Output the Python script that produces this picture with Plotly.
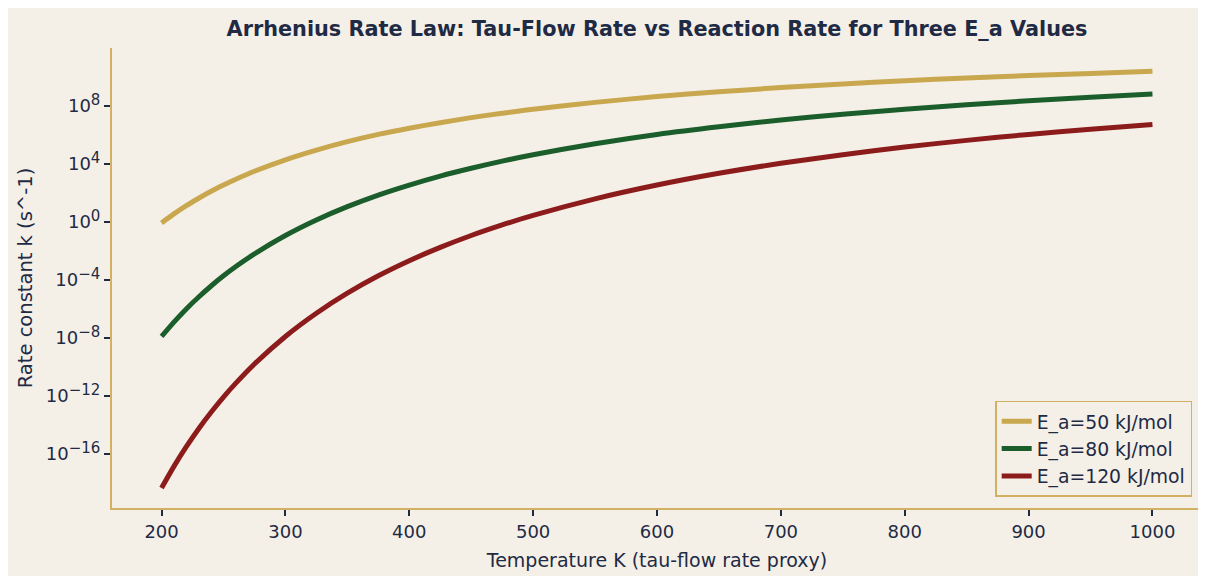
import plotly.graph_objects as go

# Temperature samples (K)
temps = [200, 210, 220, 230, 240, 250, 260, 275, 300, 325, 350, 375, 400, 425, 450, 475, 500,
         550, 600, 650, 700, 750, 800, 850, 900, 950, 1000]

# log10 of rate constant k (s^-1)
log_k_50 = [-0.06, 0.56, 1.13, 1.64, 2.12, 2.55, 2.95, 3.50, 4.29, 4.96, 5.54, 6.04, 6.47, 6.85, 7.20, 7.50, 7.78,
            8.25, 8.65, 8.98, 9.27, 9.52, 9.74, 9.93, 10.10, 10.25, 10.39]
log_k_80 = [-7.89, -6.90, -5.99, -5.17, -4.41, -3.71, -3.07, -2.20, -0.93, 0.14, 1.06, 1.86, 2.55, 3.17, 3.71, 4.20, 4.64,
            5.40, 6.04, 6.57, 7.03, 7.43, 7.78, 8.08, 8.36, 8.60, 8.82]
log_k_120 = [-18.34, -16.85, -15.49, -14.25, -13.12, -12.07, -11.11, -9.79, -7.89, -6.29, -4.91, -3.71, -2.67, -1.75, -0.93, -0.20, 0.46,
             1.60, 2.55, 3.36, 4.05, 4.64, 5.17, 5.63, 6.04, 6.40, 6.73]

series_names = ["E_a=50 kJ/mol", "E_a=80 kJ/mol", "E_a=120 kJ/mol"]
series_colors = ["#C9A74E", "#1B5E2B", "#8C1C1C"]

x_ticks = [200, 300, 400, 500, 600, 700, 800, 900, 1000]
y_tick_exps = [-16, -12, -8, -4, 0, 4, 8]

navy = "#1F2A44"
gold = "#D4B062"
bg = "#F4F0E8"

W, H = 1198, 568
ML, MR, MT, MB = 104, 4, 40, 68

fig = go.Figure()
for name, color, logs in zip(series_names, series_colors, [log_k_50, log_k_80, log_k_120]):
    fig.add_trace(go.Scatter(
        x=temps, y=[10 ** v for v in logs], mode="lines", name=name,
        line=dict(color=color, width=5, shape="spline", smoothing=0.8),
    ))

fig.update_layout(
    width=W, height=H,
    paper_bgcolor=bg, plot_bgcolor=bg,
    margin=dict(l=ML, r=MR, t=MT, b=MB),
    font=dict(family="DejaVu Sans", color=navy, size=18),
    title=dict(
        text="<b>Arrhenius Rate Law: Tau-Flow Rate vs Reaction Rate for Three E_a Values</b>",
        x=649 / W, xanchor="center", y=1 - 21 / H, yanchor="middle",
        font=dict(family="DejaVu Sans", size=20.8, color=navy),
    ),
    showlegend=True,
    legend=dict(
        x=0.991, xanchor="right", y=0.024, yanchor="bottom",
        bgcolor=bg, bordercolor=gold, borderwidth=1.5,
        font=dict(size=18.8, color=navy), tracegroupgap=0,
    ),
)

fig.update_xaxes(
    range=[160, 1040], tickvals=x_ticks, ticktext=[str(v) for v in x_ticks],
    showgrid=False, zeroline=False,
    showline=True, linecolor=gold, linewidth=2,
    ticks="outside", ticklen=6, tickwidth=1.5, tickcolor=navy,
    tickfont=dict(size=18, color=navy),
    title=dict(text="Temperature K (tau-flow rate proxy)", font=dict(size=19, color=navy), standoff=13),
)
fig.update_yaxes(
    type="log", range=[-19.72, 12.0],
    tickvals=[10 ** e for e in y_tick_exps],
    ticktext=["10<sup><span style='font-size:15px'>" + (str(e) if e >= 0 else "\u2212" + str(-e)) + "</span></sup>"
              for e in y_tick_exps],
    showgrid=False, zeroline=False,
    showline=True, linecolor=gold, linewidth=2,
    ticks="outside", ticklen=6, tickwidth=1.5, tickcolor=navy,
    tickfont=dict(size=18, color=navy),
    title=dict(text="Rate constant k (s^-1)", font=dict(size=19.5, color=navy), standoff=8),
)

fig.write_html("out.html")
